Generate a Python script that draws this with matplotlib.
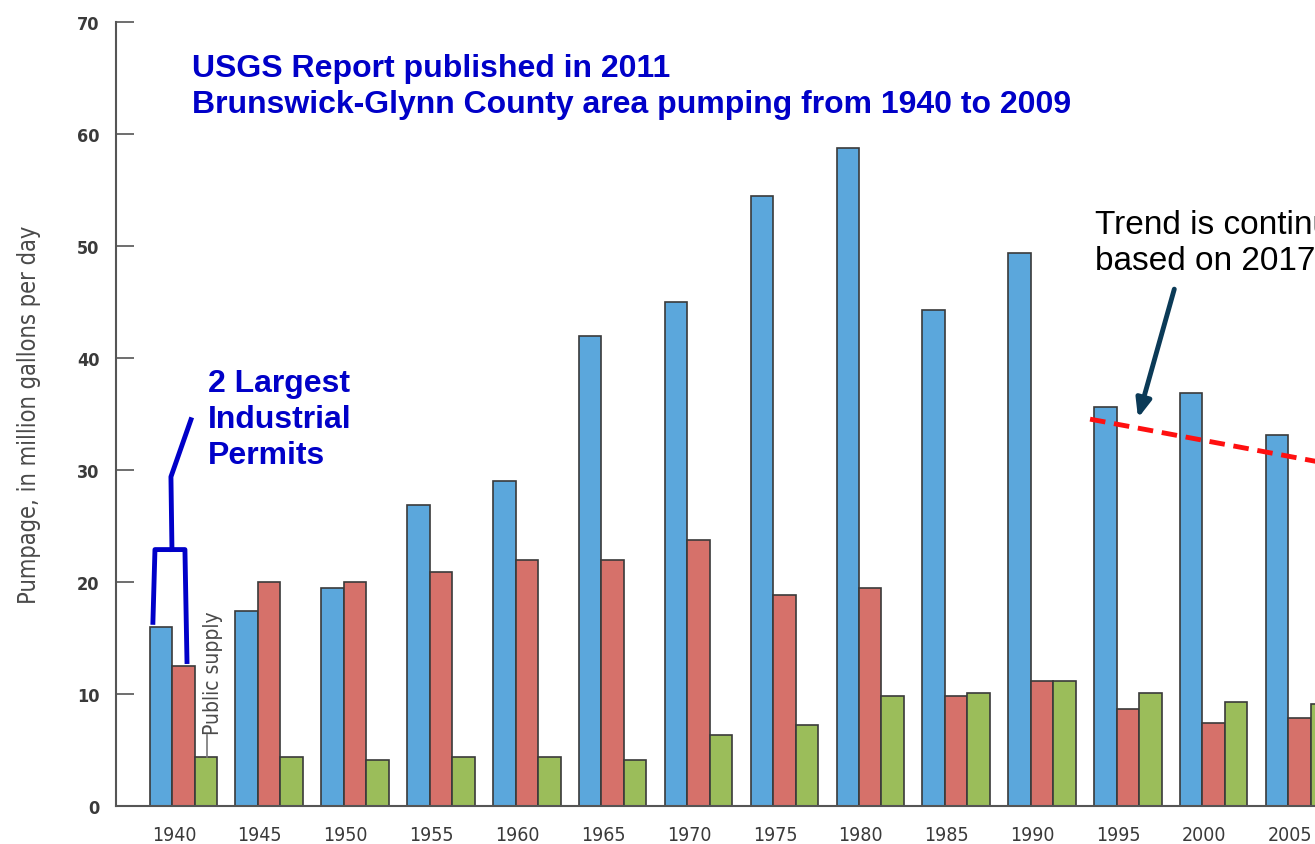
import numpy as np
import matplotlib
matplotlib.use('Agg')
import matplotlib.pyplot as plt

# data (million gallons per day)
years = ['1940', '1945', '1950', '1955', '1960', '1965', '1970',
         '1975', '1980', '1985', '1990', '1995', '2000', '2005']
blue_vals = [16.0, 17.4, 19.5, 26.9, 29.0, 42.0, 45.0,
             54.5, 58.8, 44.3, 49.4, 35.6, 36.9, 33.1]
red_vals = [12.5, 20.0, 20.0, 20.9, 22.0, 22.0, 23.8,
            18.8, 19.5, 9.8, 11.2, 8.7, 7.4, 7.9]
green_vals = [4.4, 4.4, 4.1, 4.4, 4.4, 4.1, 6.3,
              7.2, 9.8, 10.1, 11.2, 10.1, 9.3, 9.1]

# dashed trend line (group index, value)
trend_x = [10.67, 13.6]
trend_y = [34.55, 30.35]

# hand drawn bracket over the 1940 bars
bracket_x = [-0.245, -0.221, 0.128, 0.152]
bracket_y = [16.4, 22.9, 22.9, 12.9]
stem_x = [-0.023, -0.035, 0.198]
stem_y = [22.9, 29.4, 34.5]

c_blue = '#5BA7DC'
c_red = '#D6716A'
c_green = '#9BBD5A'
edge = '#3a3a3a'
ann_blue = '#0000C8'
grey_txt = '#4a4a4a'

plt.rcParams['font.family'] = ['Liberation Sans', 'DejaVu Sans']

fig = plt.figure(figsize=(13.15, 8.45), dpi=100)
ax = fig.add_axes([0.0882, 0.045, 0.9118, 0.9275])

x = np.arange(len(years))
w = 0.262
ax.bar(x - 0.152, blue_vals, w, color=c_blue, edgecolor=edge, linewidth=1.2)
ax.bar(x + 0.11, red_vals, w, color=c_red, edgecolor=edge, linewidth=1.2)
ax.bar(x + 0.372, green_vals, w, color=c_green, edgecolor=edge, linewidth=1.2)

ax.set_xlim(-0.675, 13.29)
ax.set_ylim(0, 70)
ax.set_yticks(range(0, 71, 10))
ax.set_xticks(x)
ax.set_xticklabels(years)

for s in ['top', 'right']:
    ax.spines[s].set_visible(False)
for s in ['left', 'bottom']:
    ax.spines[s].set_color('#555555')
    ax.spines[s].set_linewidth(1.5)

cond = dict(family='DejaVu Sans', stretch='condensed')
ax.tick_params(axis='y', direction='in', length=13, width=1.2, color='#555555',
               pad=12, labelsize=13, labelcolor='#3a3a3a')
ax.tick_params(axis='x', length=0, pad=14, labelsize=14, labelcolor='#3a3a3a')
for lab in ax.get_yticklabels():
    lab.set_family('DejaVu Sans')
    lab.set_stretch('condensed')
    lab.set_fontweight('bold')
for lab in ax.get_xticklabels():
    lab.set_family('DejaVu Sans')
    lab.set_stretch('condensed')

ax.set_ylabel('Pumpage, in million gallons per day', fontsize=17,
              color=grey_txt, labelpad=26, **cond)

# Public supply label
ax.plot([0.384, 0.384], [green_vals[0], 6.3], color='#777777', lw=1.2)
ax.text(0.454, 6.4, 'Public supply', rotation=90,
        ha='center', va='bottom', fontsize=15, color=grey_txt, **cond)

# title text
ax.text(0.21, 64.3, 'USGS Report published in 2011\nBrunswick-Glynn County area pumping from 1940 to 2009',
        fontsize=23, fontweight='bold', color=ann_blue, va='center',
        linespacing=1.25)

# industrial permits annotation
ax.plot(bracket_x, bracket_y, color=ann_blue, lw=3.5, solid_joinstyle='round')
ax.plot(stem_x, stem_y, color=ann_blue, lw=3.5, solid_joinstyle='round')
ax.text(0.4, 34.55, '2 Largest\nIndustrial\nPermits', fontsize=23,
        fontweight='bold', color=ann_blue, va='center', linespacing=1.25)

# trend
ax.plot(trend_x, trend_y, color='#FF1010', lw=3.5, ls=(0, (3.2, 1.8)),
        clip_on=False)
ax.text(10.73, 50.3, 'Trend is continuing\nbased on 2017 data', fontsize=24,
        color='black', va='center', linespacing=1.2)
ax.annotate('', xy=(11.22, 34.4), xytext=(11.66, 46.4),
            arrowprops=dict(arrowstyle='-|>,head_length=1.1,head_width=0.45',
                            color='#0B3A57', lw=3.5))

fig.savefig('out.png', dpi=100)
